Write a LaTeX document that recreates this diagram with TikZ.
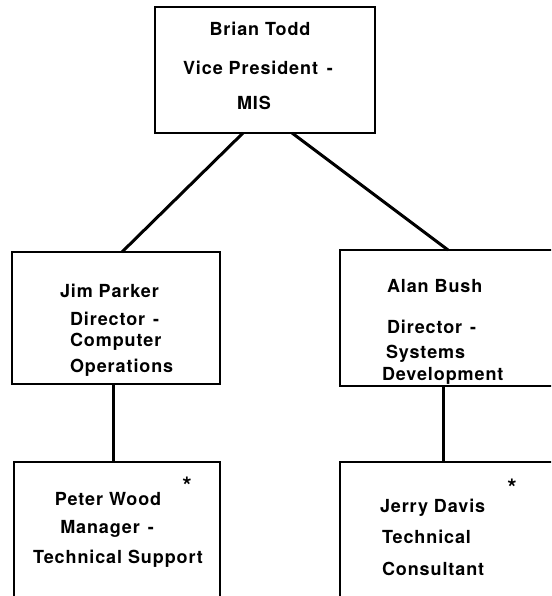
\documentclass[tikz,border=0pt]{standalone}
\usepackage{fontspec}
\newfontfamily\hv[LetterSpace=5]{TeX Gyre Heros}
\begin{document}
\begin{tikzpicture}[x=1pt,y=-1pt,
  box/.style={draw=black,line width=1.2pt,rectangle,inner sep=0pt,outer sep=0pt},
  link/.style={draw=black,line width=3pt},
  txt/.style={inner sep=0pt,outer sep=0pt,font=\hv\bfseries\fontsize{18}{20}\selectfont,text=black},
  star/.style={inner sep=0pt,outer sep=0pt,font=\hv\bfseries\fontsize{24}{26}\selectfont,text=black}]
\useasboundingbox (0,0) rectangle (551,596);
\fill[white] (0,0) rectangle (551,596);
\begin{scope}
\clip (0,0) rectangle (551,596);
% boxes
\node[box,minimum width=220pt,minimum height=126pt] (vp) at (265,70) {};
\node[box,minimum width=208pt,minimum height=132pt] (jim) at (116,318) {};
\node[box,minimum width=230pt,minimum height=136pt] (alan) at (455,318) {};
\node[box,minimum width=206pt,minimum height=160pt] (peter) at (117,542) {};
\node[box,minimum width=230pt,minimum height=160pt] (jerry) at (455,542) {};
% connectors
\draw[link] ([xshift=88pt]vp.south west) -- ([xshift=110pt]jim.north west);
\draw[link] ([xshift=137pt]vp.south west) -- ([xshift=108pt]alan.north west);
\draw[link] ([xshift=101pt]jim.south west) -- ([xshift=99pt]peter.north west);
\draw[link] ([xshift=103pt]alan.south west) -- ([xshift=103pt]jerry.north west);
% texts
\node[txt,anchor=base] (t1) at (260,36) {Brian Todd};
\node[txt,anchor=base] (t2) at (258,75) {Vice President \hspace{3pt}-};
\node[txt,anchor=base] (t3) at (254,110) {MIS};
\node[txt,anchor=base west] (j1) at (60,297) {Jim Parker};
\node[txt,anchor=base west] (j2) at (70,325) {Director \hspace{2pt}-};
\node[txt,anchor=base west] (j3) at (70,346) {Computer};
\node[txt,anchor=base west] (j4) at (70,372) {Operations};
\node[txt,anchor=base west] (a1) at (387,292) {Alan Bush};
\node[txt,anchor=base west] (a2) at (387,333) {Director \hspace{2pt}-};
\node[txt,anchor=base west] (a3) at (386,358) {Systems};
\node[txt,anchor=base west] (a4) at (382,380) {Development};
\node[txt,anchor=base] (p1) at (108,505) {Peter Wood};
\node[txt,anchor=base] (p2) at (107,533) {Manager \hspace{2pt}-};
\node[txt,anchor=base] (p3) at (118,563) {Technical Support};
\node[star] (ps) at (187,486) {*};
\node[txt,anchor=base west] (d1) at (380,512) {Jerry Davis};
\node[txt,anchor=base west] (d2) at (382,543) {Technical};
\node[txt,anchor=base west] (d3) at (382,575) {Consultant};
\node[star] (ds) at (512,488) {*};
\end{scope}
\end{tikzpicture}
\end{document}
